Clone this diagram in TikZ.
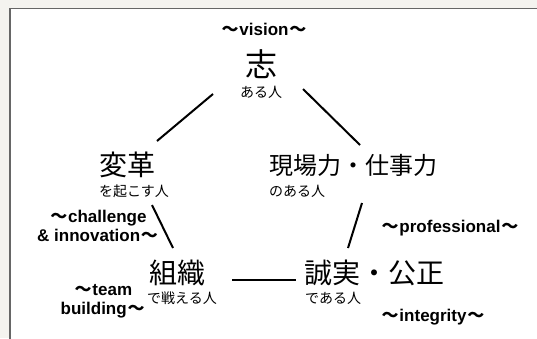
\documentclass[tikz,border=0pt]{standalone}
\usepackage{fontspec}
\setmainfont{Liberation Sans}
\newfontfamily\cjk{Noto Sans CJK JP}
\newcommand{\wv}{\kern0.8pt{\cjk\bfseries 〜}\kern0.8pt}
\definecolor{bgc}{HTML}{F4F3EF}
\definecolor{framec}{HTML}{666666}
\begin{document}
\begin{tikzpicture}[x=1pt,y=-1pt,
  big/.style={inner sep=0pt, anchor=west, font=\cjk\fontsize{28}{30}\selectfont},
  sub/.style={inner sep=0pt, anchor=west, font=\cjk\fontsize{14}{16}\selectfont},
  lab/.style={inner sep=0pt, align=center, font=\bfseries\fontsize{17}{19}\selectfont},
  edge/.style={line width=2pt, line cap=butt}]
\useasboundingbox (0,0) rectangle (537,338);
\fill[bgc] (0,0) rectangle (537,338);
\draw[framec, fill=white, line width=1.3pt] (10,8.5) rectangle (570,370);

% main nodes
\node[inner sep=0pt, font=\cjk\fontsize{32}{34}\selectfont] (shi) at (261,64) {志};
\node[inner sep=0pt, font=\cjk\fontsize{14}{16}\selectfont] (shisub) at (261,92) {ある人};
\node[big] (hen) at (99,165) {変革};
\node[sub] (hensub) at (99,191) {を起こす人};
\node[big, font=\cjk\fontsize{24}{27}\selectfont] (gen) at (269,165) {現場力・仕事力};
\node[sub] (gensub) at (269,191) {のある人};
\node[big] (so) at (149,273) {組織};
\node[sub] (sosub) at (147,298) {で戦える人};
\node[big] (sei) at (304,273) {誠実・公正};
\node[sub] (seisub) at (305,298) {である人};

% labels
\node[lab] (lvision) at (264,29) {\wv vision\wv};
\node[lab] (lchal) at (98,226) {\wv challenge\\\& innovation\wv};
\node[lab] (lprof) at (450,228) {\wv professional\wv};
\node[lab] (lteam) at (103,301) {\wv team\\building\wv};
\node[lab] (linteg) at (433,317) {\wv integrity\wv};

% connector ends
\coordinate (a1) at (213,94);  \coordinate (a2) at (157,141);
\coordinate (b1) at (303,89);  \coordinate (b2) at (360,145);
\coordinate (c1) at (152,205); \coordinate (c2) at (173,248);
\coordinate (d1) at (362,203); \coordinate (d2) at (348,248);
\coordinate (e1) at (232,280); \coordinate (e2) at (296,280);
\draw[edge] (a1) -- (a2);
\draw[edge] (b1) -- (b2);
\draw[edge] (c1) -- (c2);
\draw[edge] (d1) -- (d2);
\draw[edge] (e1) -- (e2);
\end{tikzpicture}
\end{document}
